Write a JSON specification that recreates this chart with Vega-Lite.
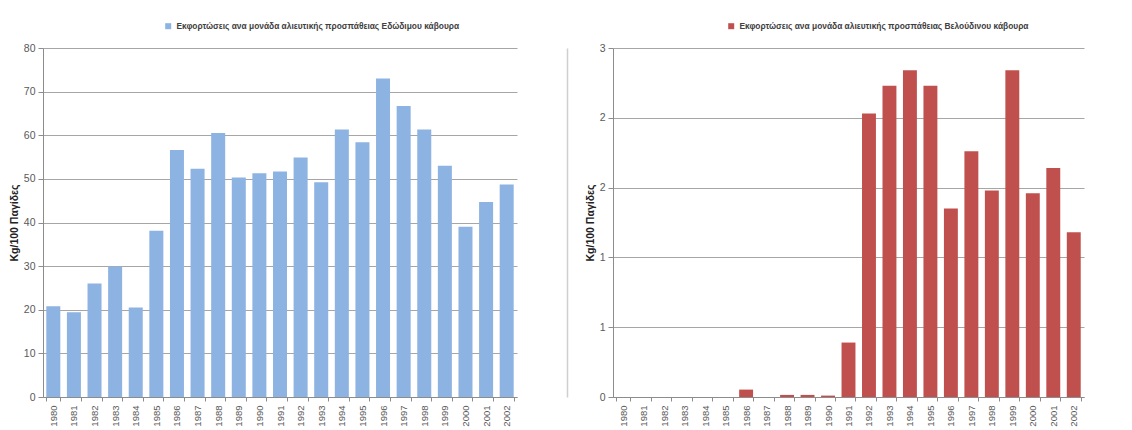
{
  "$schema": "https://vega.github.io/schema/vega-lite/v6.json",
  "background": "white",
  "padding": {"left": 9, "top": 22, "right": 5, "bottom": 0},
  "bounds": "flush",
  "spacing": 96,
  "config": {
    "view": {"stroke": null},
    "font": "Liberation Sans, Arial, sans-serif",
    "axis": {
      "labelColor": "#595959",
      "labelFontSize": 10.5,
      "domainColor": "#8c8c8c",
      "tickColor": "#8c8c8c",
      "gridColor": "#a6a6a6",
      "titleColor": "#222222",
      "titleFontSize": 10.5,
      "titleFontWeight": "bold"
    },
    "axisX": {
      "labelAngle": -90,
      "labelFontSize": 9.5,
      "labelPadding": 4,
      "tickSize": 4,
      "tickBand": "extent",
      "grid": false,
      "title": null
    },
    "axisY": {
      "tickSize": 5,
      "labelPadding": 3,
      "titlePadding": 4,
      "domain": true
    },
    "legend": {
      "orient": "none",
      "symbolType": "square",
      "symbolSize": 36,
      "symbolStrokeWidth": 0,
      "labelFontSize": 8.4,
      "labelFontWeight": "bold",
      "labelColor": "#404040",
      "labelLimit": 0,
      "title": null
    }
  },
  "datasets": {
    "edible": [
      {"year": "1980", "value": 20.8},
      {"year": "1981", "value": 19.4},
      {"year": "1982", "value": 26.0},
      {"year": "1983", "value": 29.9},
      {"year": "1984", "value": 20.5},
      {"year": "1985", "value": 38.1},
      {"year": "1986", "value": 56.6},
      {"year": "1987", "value": 52.3},
      {"year": "1988", "value": 60.5},
      {"year": "1989", "value": 50.3},
      {"year": "1990", "value": 51.3},
      {"year": "1991", "value": 51.7},
      {"year": "1992", "value": 54.9},
      {"year": "1993", "value": 49.2},
      {"year": "1994", "value": 61.3},
      {"year": "1995", "value": 58.4},
      {"year": "1996", "value": 73.0},
      {"year": "1997", "value": 66.7},
      {"year": "1998", "value": 61.3},
      {"year": "1999", "value": 53.0},
      {"year": "2000", "value": 39.0},
      {"year": "2001", "value": 44.7},
      {"year": "2002", "value": 48.7}
    ],
    "velvet": [
      {"year": "1980", "value": 0},
      {"year": "1981", "value": 0},
      {"year": "1982", "value": 0},
      {"year": "1983", "value": 0},
      {"year": "1984", "value": 0},
      {"year": "1985", "value": 0},
      {"year": "1986", "value": 0.053},
      {"year": "1987", "value": 0},
      {"year": "1988", "value": 0.015},
      {"year": "1989", "value": 0.015},
      {"year": "1990", "value": 0.01},
      {"year": "1991", "value": 0.39},
      {"year": "1992", "value": 2.03},
      {"year": "1993", "value": 2.23},
      {"year": "1994", "value": 2.34},
      {"year": "1995", "value": 2.23},
      {"year": "1996", "value": 1.35},
      {"year": "1997", "value": 1.76},
      {"year": "1998", "value": 1.48},
      {"year": "1999", "value": 2.34},
      {"year": "2000", "value": 1.46},
      {"year": "2001", "value": 1.64},
      {"year": "2002", "value": 1.18}
    ]
  },
  "resolve": {
    "scale": {"color": "independent", "x": "independent", "y": "independent"},
    "legend": {"color": "independent"}
  },
  "hconcat": [
    {
      "width": 474,
      "height": 349,
      "data": {"name": "edible"},
      "mark": {"type": "bar"},
      "encoding": {
        "x": {
          "field": "year",
          "type": "ordinal",
          "scale": {"paddingInner": 0.32, "paddingOuter": 0.16}
        },
        "y": {
          "field": "value",
          "type": "quantitative",
          "title": "Kg/100 Παγίδες",
          "scale": {"domain": [0, 80], "nice": false},
          "axis": {"values": [0, 10, 20, 30, 40, 50, 60, 70, 80]}
        },
        "color": {
          "datum": "Εκφορτώσεις ανα μονάδα αλιευτικής προσπάθειας Εδώδιμου κάβουρα",
          "scale": {"range": ["#8DB3E2"]},
          "legend": {"legendX": 121, "legendY": -26}
        }
      }
    },
    {
      "width": 471,
      "height": 349,
      "data": {"name": "velvet"},
      "resolve": {"axis": {"y": "independent"}},
      "layer": [
        {
          "mark": {"type": "bar"},
          "encoding": {
            "x": {
              "field": "year",
              "type": "ordinal",
              "scale": {"paddingInner": 0.32, "paddingOuter": 0.16}
            },
            "y": {
              "field": "value",
              "type": "quantitative",
              "title": "Kg/100 Παγίδες",
              "scale": {"domain": [0, 2.5], "nice": false},
              "axis": {
                "values": [0, 0.5, 1, 1.5, 2, 2.5],
                "labelExpr": "'' + round(datum.value)"
              }
            },
            "color": {
              "datum": "Εκφορτώσεις ανα μονάδα αλιευτικής προσπάθειας Βελούδινου κάβουρα",
              "scale": {"range": ["#C0504D"]},
              "legend": {"legendX": 114, "legendY": -26}
            }
          }
        },
        {
          "mark": {"type": "bar", "opacity": 0},
          "encoding": {
            "x": {"field": "year", "type": "ordinal"},
            "y": {
              "field": "value",
              "type": "quantitative",
              "axis": {
                "orient": "left",
                "offset": 46,
                "labels": false,
                "ticks": false,
                "grid": false,
                "title": null,
                "domainColor": "#cfcfcf",
                "domainWidth": 1.5
              }
            }
          }
        }
      ]
    }
  ]
}
